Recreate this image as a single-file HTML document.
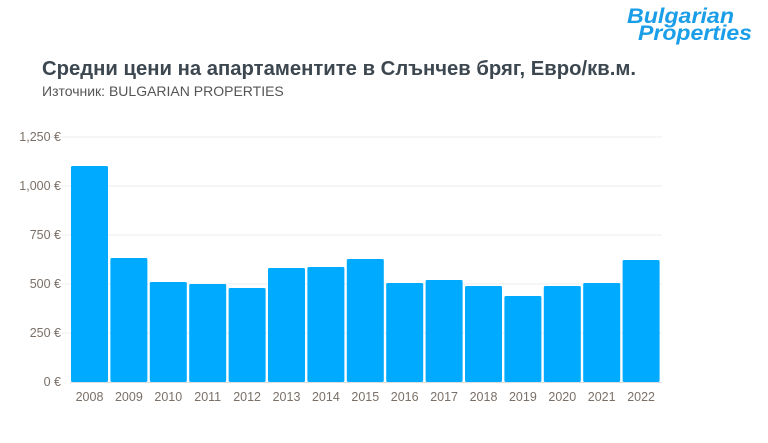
<!DOCTYPE html>
<html><head><meta charset="utf-8"><style>
body{margin:0;width:768px;height:438px;background:#fff;overflow:hidden;font-family:"Liberation Sans","DejaVu Sans",sans-serif}
</style></head><body>
<svg width="768" height="438" xmlns="http://www.w3.org/2000/svg">
<g font-family="Liberation Sans, sans-serif" font-style="italic" font-weight="bold" fill="#1a9ee8">
<text x="627" y="23" font-size="21" textLength="107" lengthAdjust="spacingAndGlyphs">Bulgarian</text>
<text x="638" y="40" font-size="21" textLength="114" lengthAdjust="spacingAndGlyphs">Properties</text>
</g>
<text x="42" y="75" font-size="20" font-weight="bold" fill="#3c4750" textLength="594" lengthAdjust="spacingAndGlyphs">Средни цени на апартаментите в Слънчев бряг, Евро/кв.м.</text>
<text x="42" y="96" font-size="14" fill="#555">Източник: BULGARIAN PROPERTIES</text>
<g stroke="#ececec" stroke-width="1">
<line x1="48" y1="137" x2="662" y2="137"/><line x1="48" y1="186" x2="662" y2="186"/>
<line x1="48" y1="235" x2="662" y2="235"/><line x1="48" y1="284" x2="662" y2="284"/>
<line x1="48" y1="333" x2="662" y2="333"/>
</g>
<g font-size="12.5" fill="#7a7068" text-anchor="end">
<text x="61" y="141">1,250 €</text><text x="61" y="190">1,000 €</text>
<text x="61" y="239">750 €</text><text x="61" y="288">500 €</text>
<text x="61" y="337">250 €</text><text x="61" y="386">0 €</text>
</g>
<g fill="#00aaff" id="bars"></g>
<g font-size="12.5" fill="#7a7068" text-anchor="middle" id="xl"></g>
<line x1="70" y1="382.5" x2="662" y2="382.5" stroke="#ddd"/>
<script>
var tops=[166,258,282,284,288,268,267,259,283,280,286,296,286,283,260];
var b=document.getElementById('bars'),l=document.getElementById('xl');
for(var i=0;i<15;i++){var x=71+i*39.4;
var r=document.createElementNS('http://www.w3.org/2000/svg','rect');
r.setAttribute('x',x);r.setAttribute('y',tops[i]);r.setAttribute('width',37);r.setAttribute('height',382-tops[i]);r.setAttribute('rx',1.5);b.appendChild(r);
var t=document.createElementNS('http://www.w3.org/2000/svg','text');
t.setAttribute('x',x+18.5);t.setAttribute('y',401);t.textContent=2008+i;l.appendChild(t);}
</script>
</svg>
</body></html>
